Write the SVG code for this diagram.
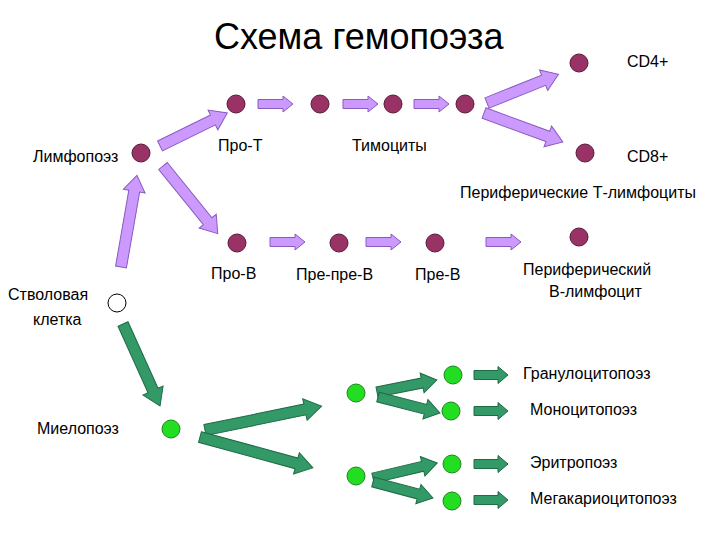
<svg xmlns="http://www.w3.org/2000/svg" width="720" height="540" viewBox="0 0 720 540">
<style>
text{font-family:"Liberation Sans",Arial,sans-serif;font-size:16px;fill:#000}
.title{font-size:36px}
.pc{fill:#993366;stroke:#5a1a3a;stroke-width:1}
.gc{fill:#22dd22;stroke:#1a8a1a;stroke-width:1}
.sc{fill:#fff;stroke:#000;stroke-width:1}
.pa{fill:#cc99ff;stroke:#8a5abf;stroke-width:1}
.ga{fill:#339966;stroke:#1f6b46;stroke-width:1}
</style>
<defs>
<path id="hp" d="M0,-4.5 L25,-4.5 L25,-8 L35,0 L25,8 L25,4.5 L0,4.5 Z"/>
<path id="hg" d="M0,-4.5 L24,-4.5 L24,-8.5 L34,0 L24,8.5 L24,4.5 L0,4.5 Z"/>
</defs>
<rect width="720" height="540" fill="#fff"/>
<text class="title" x="214" y="49">Схема гемопоэза</text>

<g id="connectors">
  <use href="#hp" class="pa" x="258" y="104"/>
  <use href="#hp" class="pa" x="343" y="104"/>
  <use href="#hp" class="pa" x="414" y="104"/>
  <use href="#hp" class="pa" x="270" y="242"/>
  <use href="#hp" class="pa" x="366" y="242"/>
  <use href="#hp" class="pa" x="486" y="242"/>
  <g transform="translate(160,146) rotate(-26.2)"><path class="pa" d="M0,-5.5 L59,-5.5 L59,-11 L75,0 L59,11 L59,5.5 L0,5.5 Z"/></g>
  <g transform="translate(163,166) rotate(51)"><path class="pa" d="M0,-5.5 L71,-5.5 L71,-11 L87,0 L71,11 L71,5.5 L0,5.5 Z"/></g>
  <g transform="translate(121,267) rotate(-80.1)"><path class="pa" d="M0,-5.5 L77,-5.5 L77,-11 L93,0 L77,11 L77,5.5 L0,5.5 Z"/></g>
  <g transform="translate(487,103) rotate(-21.9)"><path class="pa" d="M0,-5.5 L61,-5.5 L61,-11 L77,0 L61,11 L61,5.5 L0,5.5 Z"/></g>
  <g transform="translate(484,113) rotate(20.2)"><path class="pa" d="M0,-5.5 L68,-5.5 L68,-11 L84,0 L68,11 L68,5.5 L0,5.5 Z"/></g>
  <g transform="translate(123,324) rotate(65.7)"><path class="ga" d="M0,-5.5 L73,-5.5 L73,-11 L90,0 L73,11 L73,5.5 L0,5.5 Z"/></g>
  <g transform="translate(205,430) rotate(-11.6)"><path class="ga" d="M0,-5.5 L102,-5.5 L102,-11 L119,0 L102,11 L102,5.5 L0,5.5 Z"/></g>
  <g transform="translate(200,437) rotate(15.3)"><path class="ga" d="M0,-5.5 L100,-5.5 L100,-11 L117,0 L100,11 L100,5.5 L0,5.5 Z"/></g>
  <g transform="translate(377,392) rotate(-11.3)"><path class="ga" d="M0,-5 L46,-5 L46,-10 L61,0 L46,10 L46,5 L0,5 Z"/></g>
  <g transform="translate(378,397) rotate(14.5)"><path class="ga" d="M0,-5 L49,-5 L49,-10 L64,0 L49,10 L49,5 L0,5 Z"/></g>
  <g transform="translate(373,478) rotate(-13.2)"><path class="ga" d="M0,-5 L51,-5 L51,-10 L66,0 L51,10 L51,5 L0,5 Z"/></g>
  <g transform="translate(373,482) rotate(14.9)"><path class="ga" d="M0,-5 L47,-5 L47,-10 L62,0 L47,10 L47,5 L0,5 Z"/></g>
  <use href="#hg" class="ga" x="474" y="375"/>
  <use href="#hg" class="ga" x="474" y="411"/>
  <use href="#hg" class="ga" x="474" y="464"/>
  <use href="#hg" class="ga" x="474" y="500"/>
</g>

<g id="lymphopoiesis"><circle class="pc" cx="141" cy="153" r="9"/><text x="33" y="162">Лимфопоэз</text></g>
<g id="pro-t"><circle class="pc" cx="236" cy="104" r="9"/><text x="218" y="151">Про-Т</text></g>
<g id="thymocyte1"><circle class="pc" cx="320" cy="104" r="9"/></g>
<g id="thymocyte2"><circle class="pc" cx="393" cy="104" r="9"/><text x="352" y="151">Тимоциты</text></g>
<g id="thymocyte3"><circle class="pc" cx="465" cy="104" r="9"/></g>
<g id="cd4"><circle class="pc" cx="579" cy="63" r="9"/><text x="627" y="67">CD4+</text></g>
<g id="cd8"><circle class="pc" cx="585" cy="153" r="9"/><text x="627" y="162">CD8+</text></g>
<g id="peripheral-t"><text x="460" y="198">Периферические Т-лимфоциты</text></g>
<g id="pro-b"><circle class="pc" cx="237" cy="243" r="9"/><text x="211" y="279">Про-В</text></g>
<g id="pre-pre-b"><circle class="pc" cx="339" cy="243" r="9"/><text x="296" y="280">Пре-пре-В</text></g>
<g id="pre-b"><circle class="pc" cx="435" cy="243" r="9"/><text x="415" y="280">Пре-В</text></g>
<g id="peripheral-b"><circle class="pc" cx="579" cy="237" r="9"/><text x="523" y="275">Периферический</text><text x="549" y="297">В-лимфоцит</text></g>
<g id="stem-cell"><circle class="sc" cx="117" cy="303" r="9"/><text x="8" y="300">Стволовая</text><text x="33" y="325">клетка</text></g>
<g id="myelopoiesis"><circle class="gc" cx="171" cy="429" r="9"/><text x="37" y="434">Миелопоэз</text></g>
<g id="myelo-1"><circle class="gc" cx="356" cy="393" r="9"/></g>
<g id="myelo-2"><circle class="gc" cx="356" cy="476" r="9"/></g>
<g id="granulocytopoiesis"><circle class="gc" cx="453" cy="375" r="9"/><text x="523" y="379">Гранулоцитопоэз</text></g>
<g id="monocytopoiesis"><circle class="gc" cx="451" cy="411" r="9"/><text x="530" y="415">Моноцитопоэз</text></g>
<g id="erythropoiesis"><circle class="gc" cx="452" cy="464" r="9"/><text x="530" y="468">Эритропоэз</text></g>
<g id="megakaryocytopoiesis"><circle class="gc" cx="452" cy="501" r="9"/><text x="530" y="504">Мегакариоцитопоэз</text></g>
</svg>
